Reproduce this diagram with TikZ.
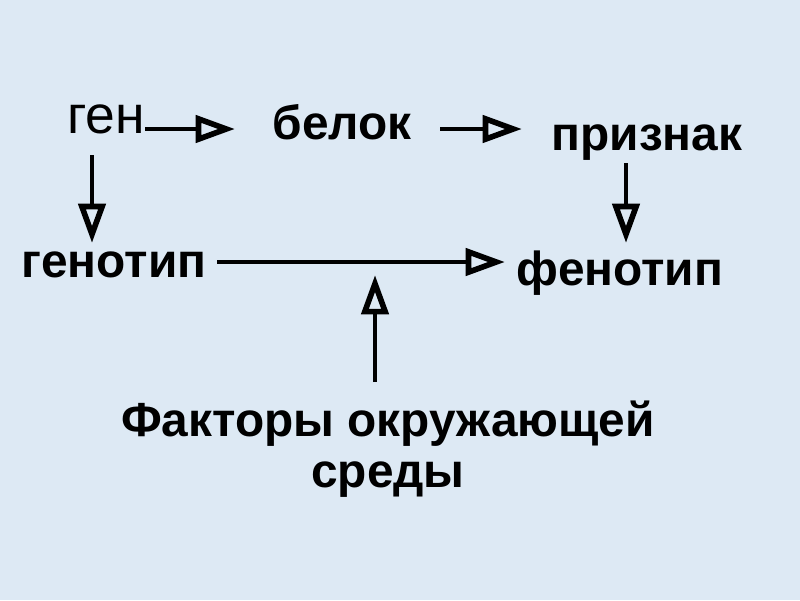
\documentclass[tikz,border=0pt]{standalone}
\usepackage{fontspec}
\setmainfont{Liberation Sans}
\usetikzlibrary{arrows.meta, calc}
\definecolor{bgBlue}{HTML}{DDE9F4}

\tikzset{
  word/.style={anchor=base, inner sep=0pt, font=\fontsize{34}{36}\selectfont\bfseries},
  arr/.style={line width=2.6pt, -{Triangle[open, length=28pt, width=19pt, line width=4pt]}}
}

\begin{document}
\begin{tikzpicture}[x=0.025cm, y=-0.025cm]
    \fill[bgBlue] (0,0) rectangle (800,600);
    \useasboundingbox (0,0) rectangle (800,600);
    % words
    \node[word, font=\fontsize{38}{40}\selectfont] (gen) at (106,133) {ген};
    \node[word] (belok) at (342,139) {белок};
    \node[word] (priznak) at (647,150) {признак};
    \node[word] (genotip) at (114,277) {генотип};
    \node[word] (fenotip) at (620,285) {фенотип};
    \node[word, anchor=north, align=center] (factors) at (388,401) {Факторы окружающей\\среды};
    \coordinate (meet) at ($(genotip.base)+(261,-2)$);
    % arrows
    \draw[arr] ($(gen.base)+(39,-4)$) -- ($(belok.base)+(-107,-10)$);
    \draw[arr] ($(belok.base)+(98,-10)$) -- ($(priznak.base)+(-125,-21)$);
    \draw[arr] ($(gen.base)+(-14,22)$) -- ($(genotip.base)+(-22,-34)$);
    \draw[arr] ($(priznak.base)+(-21,13)$) -- ($(fenotip.base)+(6,-42)$);
    \draw[arr] ($(genotip.base)+(103,-15)$) -- ($(fenotip.base)+(-115,-23)$);
    \draw[arr] ($(factors.north)+(-13,-19)$) -- (meet);
\end{tikzpicture}
\end{document}
